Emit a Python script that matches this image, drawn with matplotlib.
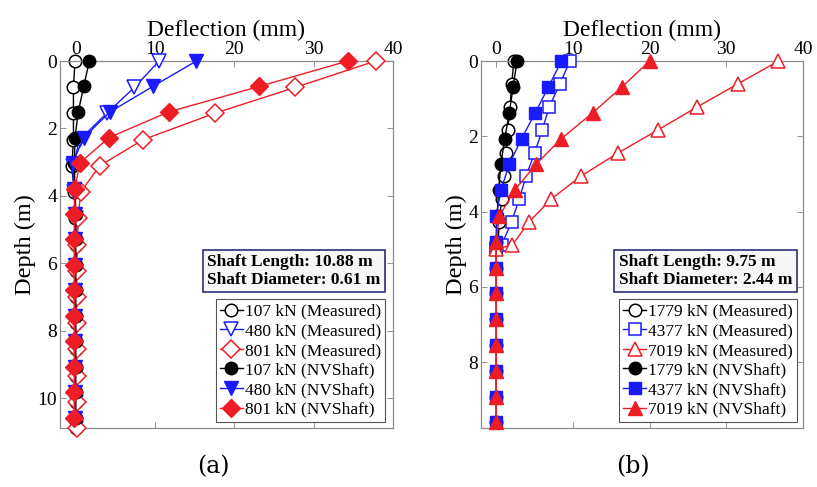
import numpy as np
import matplotlib.pyplot as plt

plt.rcParams['font.family'] = ['Liberation Serif', 'DejaVu Serif']

# ---- panel (a): 0.61 m shaft ----
depth_meas_a = [0, 0.78, 1.55, 2.33, 3.11, 3.89, 4.66, 5.44, 6.22, 6.99, 7.77, 8.55, 9.33, 10.10, 10.88]
depth_nv_a = [0, 0.755, 1.51, 2.27, 3.02, 3.78, 4.53, 5.29, 6.04, 6.80, 7.55, 8.31, 9.06, 9.82, 10.57]
meas_107 = [-0.1, -0.3, -0.3, -0.3, -0.5, -0.2, -0.1, 0, 0, 0, 0, 0, 0, 0, 0]
meas_480 = [10.5, 7.4, 3.9, 0.5, -0.4, -0.2, 0, 0, 0, 0, 0, 0, 0, 0, 0]
meas_801 = [37.8, 27.7, 17.5, 8.5, 3.0, 0.6, 0.3, 0.2, 0.1, 0.1, 0.1, 0.1, 0.1, 0.1, 0.1]
nv_107 = [1.7, 1.0, 0.3, -0.1, -0.2, -0.1, 0, 0, 0, 0, 0, 0, 0, 0, 0]
nv_480 = [15.2, 9.7, 4.3, 1.0, -0.4, -0.2, -0.1, -0.1, -0.1, -0.1, -0.1, -0.1, -0.1, -0.1, -0.1]
nv_801 = [34.3, 23.1, 11.7, 4.2, 0.5, -0.1, -0.2, -0.2, -0.2, -0.2, -0.2, -0.2, -0.2, -0.2, -0.2]

# ---- panel (b): 2.44 m shaft ----
depth_meas_b = [0, 0.61, 1.22, 1.83, 2.44, 3.05, 3.66, 4.27, 4.88, 5.0]
depth_nv_b = [0, 0.686, 1.37, 2.06, 2.74, 3.43, 4.12, 4.80, 5.49, 6.17, 6.86, 7.55, 8.23, 8.92, 9.60]
meas_1779 = [2.3, 2.0, 1.8, 1.5, 1.3, 1.0, 0.7, 0.4, 0.2, 0]
meas_4377 = [9.6, 8.3, 6.9, 6.0, 5.0, 3.9, 3.0, 2.0, 0.7, 0]
meas_7019 = [36.8, 31.5, 26.2, 21.1, 15.9, 11.1, 7.2, 4.3, 2.1, 0]
nv_1779 = [2.7, 2.2, 1.7, 1.1, 0.6, 0.3, 0.1, 0, 0, 0, 0, 0, 0, 0, 0]
nv_4377 = [8.5, 6.8, 5.1, 3.3, 1.7, 0.6, 0, 0, 0, 0, 0, 0, 0, 0, 0]
nv_7019 = [20.0, 16.4, 12.6, 8.5, 5.2, 2.4, 0.4, 0, 0, 0, 0, 0, 0, 0, 0]

RED = '#ee1c25'
BLUE = '#1a1aff'


def style_axes(ax, ylim, yticks):
    ax.set_xlim(-2, 40)
    ax.set_ylim(ylim[1], ylim[0])
    ax.set_xticks([0, 10, 20, 30, 40])
    ax.set_yticks(yticks)
    ax.xaxis.set_label_position('top')
    ax.xaxis.tick_top()
    ax.tick_params(which='both', direction='in', length=4, width=0.6, color='#808080',
                   labelsize=14, top=True, bottom=True, left=True, right=True,
                   labeltop=True, labelbottom=False, pad=2)
    for s in ax.spines.values():
        s.set_color('#8c8c8c')
        s.set_linewidth(0.9)
    ax.set_xlabel('Deflection (mm)', fontsize=17, labelpad=4)
    ax.set_ylabel('Depth (m)', fontsize=17.5, labelpad=1)


def draw(ax, d_meas, d_nv, meas, nv, labels, mk, sizes):
    colors = ['black', BLUE, RED]
    hm, hn = [], []
    for i in range(3):
        h, = ax.plot(meas[i], d_meas, color=colors[i], lw=1.0, marker=mk[i],
                     ms=sizes[i], mfc='white', mec=colors[i], mew=1.1,
                     label=labels[i] + ' (Measured)', zorder=2 + i, clip_on=False)
        hm.append(h)
    for i in range(3):
        h, = ax.plot(nv[i], d_nv, color=colors[i], lw=1.0, marker=mk[i],
                     ms=sizes[i], mfc=colors[i], mec=colors[i], mew=1.0,
                     label=labels[i] + ' (NVShaft)', zorder=6 + i, clip_on=False)
        hn.append(h)
    return hm + hn


fig = plt.figure(figsize=(8.17, 4.87), dpi=100)
ax1 = fig.add_axes([0.0734, 0.1211, 0.4076, 0.7536])
ax2 = fig.add_axes([0.5887, 0.1211, 0.3941, 0.7536])

h1 = draw(ax1, depth_meas_a, depth_nv_a, [meas_107, meas_480, meas_801],
          [nv_107, nv_480, nv_801], ['107 kN', '480 kN', '801 kN'],
          ['o', 'v', 'D'], [9, 10, 9])
style_axes(ax1, (0, 10.88), [0, 2, 4, 6, 8, 10])

h2 = draw(ax2, depth_meas_b, depth_nv_b, [meas_1779, meas_4377, meas_7019],
          [nv_1779, nv_4377, nv_7019], ['1779 kN', '4377 kN', '7019 kN'],
          ['o', 's', '^'], [9, 8, 10])
style_axes(ax2, (0, 9.75), [0, 2, 4, 6, 8])

for ax, handles, xr, txt, tx in [
        (ax1, h1, 0.976, 'Shaft Length: 10.88 m\nShaft Diameter: 0.61 m', 0.962),
        (ax2, h2, 0.981, 'Shaft Length: 9.75 m\nShaft Diameter: 2.44 m', 0.967)]:
    leg = ax.legend(handles=handles, loc='lower right', bbox_to_anchor=(xr, 0.016),
                    borderaxespad=0, fontsize=12.5, labelspacing=0.2,
                    handlelength=1.3, handletextpad=0.1, borderpad=0.25,
                    fancybox=False, framealpha=1, edgecolor='#555555')
    leg.get_frame().set_linewidth(0.8)
    leg.set_zorder(20)
    ax.text(tx, 0.428, txt, transform=ax.transAxes, ha='right', va='center',
            multialignment='left', fontsize=12.5, fontweight='bold',
            linespacing=1.15, zorder=21,
            bbox=dict(boxstyle='square,pad=0.25', fc='#f7f7f9', ec='#2e2e7a', lw=1.2))

fig.text(213 / 817, 1 - 467 / 487, '(a)', fontsize=17, ha='center', va='center',
         family=['DejaVu Serif'])
fig.text(633 / 817, 1 - 467 / 487, '(b)', fontsize=17, ha='center', va='center',
         family=['DejaVu Serif'])

fig.savefig('out.png', dpi=100, facecolor='white')
